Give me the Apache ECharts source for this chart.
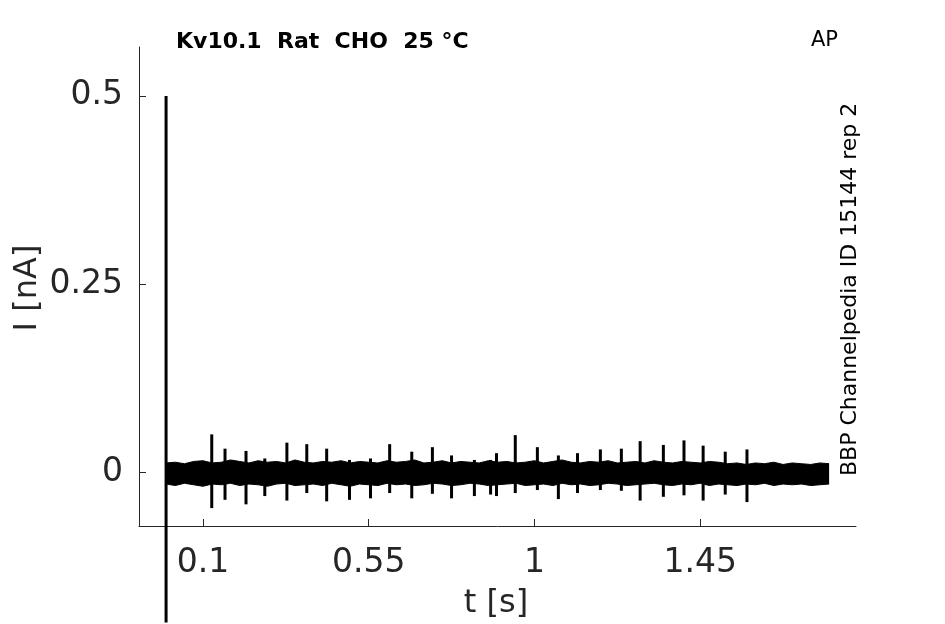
<!DOCTYPE html>
<html>
<head>
<meta charset="utf-8">
<script src="https://cdn.jsdelivr.net/npm/echarts@6/dist/echarts.min.js"></script>
<style>
html,body{margin:0;padding:0;background:#fff;}
#chart{width:945px;height:624px;}
</style>
</head>
<body>
<div id="chart"></div>
<script>
// ---- data ----
const titleText = 'Kv10.1  Rat  CHO  25 °C';
const protocolText = 'AP';
const sideText = 'BBP Channelpedia ID 15144 rep 2';
const xTicks = [0.1, 0.55, 1, 1.45];
const yTicks = [0, 0.25, 0.5];
const xRange = [-0.0735, 1.873];
const yRange = [-0.0718, 0.565];

// noise band envelope, sampled every 0.025 s from 0 to 1.8 s
const bandStep = 0.025;
const bandUpper = [
  0.012,0.013,0.011,0.014,0.015,0.012,0.013,0.016,0.014,0.012,
  0.015,0.013,0.014,0.012,0.016,0.013,0.012,0.014,0.013,0.015,
  0.012,0.014,0.013,0.012,0.015,0.013,0.014,0.016,0.012,0.013,
  0.015,0.012,0.014,0.013,0.012,0.015,0.013,0.014,0.012,0.013,
  0.015,0.012,0.014,0.016,0.013,0.012,0.014,0.013,0.015,0.012,
  0.013,0.014,0.012,0.015,0.013,0.012,0.014,0.013,0.012,0.014,
  0.013,0.011,0.012,0.010,0.012,0.011,0.013,0.010,0.012,0.011,
  0.010,0.012,0.011
];
const bandLower = [
  -0.016,-0.018,-0.015,-0.017,-0.019,-0.016,-0.017,-0.015,-0.018,-0.016,
  -0.017,-0.019,-0.016,-0.015,-0.018,-0.017,-0.016,-0.018,-0.015,-0.017,
  -0.019,-0.016,-0.017,-0.018,-0.015,-0.017,-0.016,-0.018,-0.017,-0.015,
  -0.016,-0.018,-0.017,-0.015,-0.016,-0.018,-0.017,-0.016,-0.015,-0.018,
  -0.017,-0.016,-0.018,-0.015,-0.017,-0.016,-0.018,-0.017,-0.015,-0.016,
  -0.018,-0.017,-0.016,-0.015,-0.017,-0.018,-0.016,-0.017,-0.015,-0.018,
  -0.016,-0.017,-0.018,-0.016,-0.017,-0.015,-0.018,-0.016,-0.017,-0.016,
  -0.018,-0.017,-0.016
];

// spikes (time, top, bottom)
const spikeT = [0.124,0.160,0.217,0.268,0.328,0.382,0.436,0.498,0.555,0.607,0.667,0.723,0.775,0.837,0.881,0.897,0.948,1.008,1.065,1.117,1.179,1.236,1.287,1.350,1.406,1.458,1.518,1.577];
const spikeTop = [0.050,0.031,0.028,0.018,0.039,0.037,0.031,0.016,0.018,0.037,0.027,0.033,0.022,0.016,0.016,0.025,0.049,0.033,0.022,0.025,0.030,0.031,0.041,0.036,0.042,0.035,0.027,0.030];
const spikeBottom = [-0.048,-0.037,-0.043,-0.032,-0.038,-0.028,-0.039,-0.037,-0.035,-0.028,-0.035,-0.029,-0.035,-0.032,-0.030,-0.032,-0.028,-0.024,-0.036,-0.028,-0.024,-0.025,-0.038,-0.033,-0.031,-0.038,-0.030,-0.040];

// capacitive artifact at t = 0
const artifactT = 0;
const artifactRange = [0.5, -0.2];

// ---- build chart ----
const upperData = bandUpper.map((v, i) => [+(i * bandStep).toFixed(3), v]);
const lowerData = bandLower.map((v, i) => [+(i * bandStep).toFixed(3), v]);
const spikeData = spikeT.map((t, i) => [t, spikeTop[i], spikeBottom[i]]);

const FONT = 'DejaVu Sans';
const AX = '#262626';

const chart = echarts.init(document.getElementById('chart'), null, {renderer: 'canvas'});
chart.setOption({
  animation: false,
  backgroundColor: '#fff',
  grid: {left: 139, right: 89, top: 47, bottom: 98},
  xAxis: {
    type: 'value', min: xRange[0], max: xRange[1],
    axisLine: {show: true, onZero: false, lineStyle: {color: AX, width: 1}},
    axisTick: {show: true, inside: true, length: 7, customValues: xTicks, lineStyle: {color: AX}},
    axisLabel: {customValues: xTicks, color: AX, fontSize: 33, fontFamily: FONT, margin: 21},
    splitLine: {show: false}
  },
  yAxis: {
    type: 'value', min: yRange[0], max: yRange[1],
    axisLine: {show: true, onZero: false, lineStyle: {color: AX, width: 1}},
    axisTick: {show: true, inside: true, length: 7, customValues: yTicks, lineStyle: {color: AX}},
    axisLabel: {customValues: yTicks, color: AX, fontSize: 33, fontFamily: FONT, margin: 16, padding: [12, 0, 0, 0]},
    splitLine: {show: false}
  },
  series: [
    {
      type: 'line', data: upperData, symbol: 'none',
      lineStyle: {color: '#000', width: 1},
      areaStyle: {color: '#000', opacity: 1}
    },
    {
      type: 'line', data: lowerData, symbol: 'none',
      lineStyle: {color: '#000', width: 1},
      areaStyle: {color: '#000', opacity: 1}
    },
    {
      type: 'custom', data: spikeData,
      renderItem: function (params, api) {
        const p1 = api.coord([api.value(0), api.value(1)]);
        const p2 = api.coord([api.value(0), api.value(2)]);
        return {type: 'line', shape: {x1: p1[0], y1: p1[1], x2: p2[0], y2: p2[1]},
                style: {stroke: '#000', lineWidth: 3}};
      },
      encode: {x: 0, y: [1, 2]}
    },
    {
      type: 'line', clip: false, symbol: 'none',
      data: [[artifactT, artifactRange[0]], [artifactT, artifactRange[1]]],
      lineStyle: {color: '#000', width: 3}, z: 5
    }
  ],
  graphic: [
    {type: 'text', left: 176, top: 31, style: {text: titleText, fontFamily: FONT, fontSize: 22, fontWeight: 'bold', fill: '#000'}},
    {type: 'text', left: 811, top: 30, style: {text: protocolText, fontFamily: FONT, fontSize: 21, fill: '#000'}},
    {type: 'text', x: 850, y: 476, rotation: Math.PI / 2,
     style: {text: sideText, fontFamily: FONT, fontSize: 22, fill: '#000', align: 'left', verticalAlign: 'middle'}},
    {type: 'text', x: 496, y: 604,
     style: {text: 't [s]', fontFamily: FONT, fontSize: 32, fill: AX, align: 'center', verticalAlign: 'middle'}},
    {type: 'text', x: 28, y: 288, rotation: Math.PI / 2,
     style: {text: 'I [nA]', fontFamily: FONT, fontSize: 32, fill: AX, align: 'center', verticalAlign: 'middle'}}
  ]
});
</script>
</body>
</html>
